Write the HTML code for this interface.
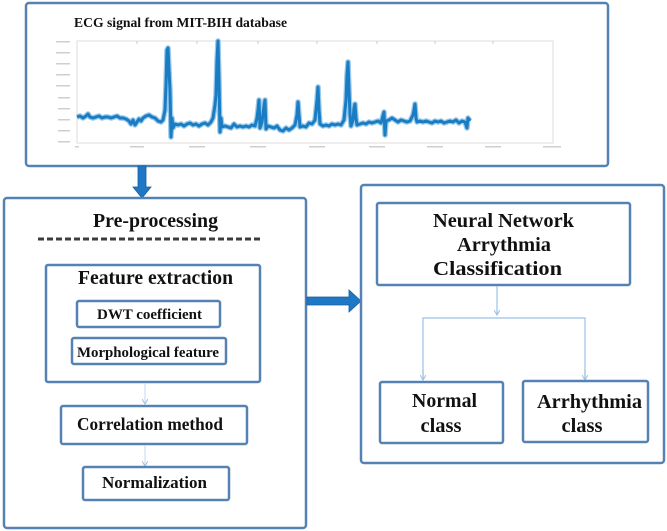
<!DOCTYPE html>
<html><head><meta charset="utf-8">
<style>
html,body{margin:0;padding:0;background:#fff;}
svg{display:block;}
text{font-family:"Liberation Serif",serif;font-weight:bold;fill:#111;}
</style></head>
<body>
<svg width="667" height="531" viewBox="0 0 667 531" xmlns="http://www.w3.org/2000/svg">
<defs>
<marker id="ah" markerWidth="6" markerHeight="6" refX="5" refY="3" orient="auto" markerUnits="userSpaceOnUse">
<path d="M0,0 L5,3 L0,6" fill="none" stroke="#9cc0e6" stroke-width="1"/>
</marker>
<path id="ecg" d="M77,117 L80,116 83,118 86,116 88,114 90,117 93,118 96,117 99,116 102,118 105,117 108,117 111,118 114,117 117,116 120,118 123,118 126,119 129,121 131,124 133,120 135,125 137,122 139,119 141,121 143,118 146,116 149,115 152,117 155,118 158,121 161,122 163,120 165,110 166,85 167,50 168,48 169,70 170,90 171,137 172,118 173,128 175,124 178,125 181,124 184,126 187,124 190,123 193,125 196,124 199,126 202,124 205,123 208,125 211,122 213,118 215,105 216,95 217,60 218,41 219,80 220,132 221,118 222,127 225,126 228,127 231,128 234,124 237,127 240,126 243,127 246,126 249,127 252,125 255,126 257,118 258,110 259,100 260,128 262,122 264,106 265,100 266,129 268,126 271,127 274,128 277,126 280,130 283,131 286,128 289,130 292,128 295,125 297,115 298,102 299,115 300,127 303,126 306,127 309,123 312,124 315,120 317,100 318,87 319,110 320,124 323,126 326,125 329,126 332,124 335,125 338,124 341,125 344,120 346,100 347,75 348,62 349,90 350,115 351,126 353,120 354,108 355,104 356,118 357,125 360,124 363,123 366,124 369,122 372,123 375,122 378,121 381,123 384,112 385,135 386,121 389,120 392,118 395,120 398,122 401,120 404,121 407,122 410,121 413,115 414,110 415,104 416,118 417,122 420,121 423,122 426,121 429,122 432,123 435,121 438,122 441,121 444,123 447,122 450,121 453,122 456,120 459,123 462,121 465,122 467,128 468,118 470,121"/>
</defs>
<!-- Top ECG box -->
<rect x="26" y="3" width="582" height="163" rx="3" fill="#fff" stroke="#5682b3" stroke-width="2.5"/>
<text x="74" y="27" font-size="13.5" textLength="213" lengthAdjust="spacingAndGlyphs">ECG signal from MIT-BIH database</text>
<!-- plot frame -->
<rect x="77" y="41" width="476" height="102" fill="none" stroke="#dcdcdc" stroke-width="1"/>
<g fill="#cfcfcf">
<rect x="56" y="41" width="14" height="1.5"/>
<rect x="56" y="52" width="14" height="1.5"/>
<rect x="56" y="63" width="14" height="1.5"/>
<rect x="56" y="74" width="14" height="1.5"/>
<rect x="56" y="85" width="14" height="1.5"/>
<rect x="58" y="97" width="12" height="1.5"/>
<rect x="58" y="108" width="12" height="1.5"/>
<rect x="58" y="119" width="12" height="1.5"/>
<rect x="58" y="130" width="12" height="1.5"/>
<rect x="58" y="141" width="12" height="1.5"/>
<rect x="75" y="146" width="4" height="1.5"/>
<rect x="130" y="146" width="14" height="1.5"/>
<rect x="189" y="146" width="16" height="1.5"/>
<rect x="250" y="146" width="16" height="1.5"/>
<rect x="309" y="146" width="16" height="1.5"/>
<rect x="369" y="146" width="16" height="1.5"/>
<rect x="427" y="146" width="16" height="1.5"/>
<rect x="485" y="146" width="16" height="1.5"/>
<rect x="543" y="146" width="18" height="1.5"/>
</g>
<g stroke="#c8c8c8" stroke-width="1">
<line x1="137" y1="41" x2="137" y2="44"/><line x1="197" y1="41" x2="197" y2="44"/>
<line x1="258" y1="41" x2="258" y2="44"/><line x1="317" y1="41" x2="317" y2="44"/>
<line x1="377" y1="41" x2="377" y2="44"/><line x1="435" y1="41" x2="435" y2="44"/>
<line x1="493" y1="41" x2="493" y2="44"/>
</g>
<g fill="none" stroke-linejoin="round">
<use href="#ecg" stroke="#7fbbe6" stroke-width="5.5" opacity="0.8"/>
<use href="#ecg" stroke="#1a7cc2" stroke-width="3"/>
</g>
<!-- down arrow -->
<polygon points="138,166 146,166 146,187 151,187 142,198 133,187 138,187" fill="#1f78c6" stroke="#175d9c" stroke-width="0.8"/>
<!-- Left box -->
<rect x="4" y="198" width="302" height="330" rx="3" fill="#fff" stroke="#5682b3" stroke-width="2.5"/>
<text x="155.5" y="227" font-size="19.5" text-anchor="middle" textLength="125" lengthAdjust="spacingAndGlyphs">Pre-processing</text>
<line x1="38" y1="239" x2="263" y2="239" stroke="#3c3c3c" stroke-width="3" stroke-dasharray="6,3"/>
<rect x="46" y="265" width="214" height="117" rx="2" fill="#fff" stroke="#5682b3" stroke-width="2.5"/>
<text x="155.5" y="284" font-size="19.5" text-anchor="middle" textLength="155" lengthAdjust="spacingAndGlyphs">Feature extraction</text>
<rect x="77" y="301" width="143" height="26" rx="2" fill="#fff" stroke="#5682b3" stroke-width="2.5"/>
<text x="149.5" y="319" font-size="15" text-anchor="middle" textLength="105" lengthAdjust="spacingAndGlyphs">DWT coefficient</text>
<rect x="72" y="338" width="154" height="26" rx="2" fill="#fff" stroke="#5682b3" stroke-width="2.5"/>
<text x="148" y="357" font-size="15" text-anchor="middle" textLength="142" lengthAdjust="spacingAndGlyphs">Morphological feature</text>
<line x1="145" y1="383" x2="145" y2="404" stroke="#c4daf0" stroke-width="1" marker-end="url(#ah)"/>
<rect x="61" y="406" width="186" height="38" rx="2" fill="#fff" stroke="#5682b3" stroke-width="2.5"/>
<text x="150" y="430" font-size="17.5" text-anchor="middle" textLength="146" lengthAdjust="spacingAndGlyphs">Correlation method</text>
<line x1="145" y1="445" x2="145" y2="466" stroke="#c4daf0" stroke-width="1" marker-end="url(#ah)"/>
<rect x="83" y="467" width="146" height="33" rx="2" fill="#fff" stroke="#5682b3" stroke-width="2.5"/>
<text x="154.5" y="488" font-size="17" text-anchor="middle" textLength="105" lengthAdjust="spacingAndGlyphs">Normalization</text>
<!-- right arrow -->
<polygon points="307,297 349,297 349,290 361,301 349,312 349,305 307,305" fill="#1f78c6" stroke="#175d9c" stroke-width="0.8"/>
<!-- Right box -->
<rect x="361" y="185" width="303" height="278" rx="3" fill="#fff" stroke="#5682b3" stroke-width="2.5"/>
<rect x="377" y="203" width="253" height="82" rx="2" fill="#fff" stroke="#5682b3" stroke-width="2.5"/>
<text x="503.5" y="227" font-size="20" text-anchor="middle" textLength="141" lengthAdjust="spacingAndGlyphs">Neural Network</text>
<text x="504" y="251" font-size="20" text-anchor="middle" textLength="94" lengthAdjust="spacingAndGlyphs">Arrythmia</text>
<text x="497.5" y="275" font-size="20" text-anchor="middle" textLength="129" lengthAdjust="spacingAndGlyphs">Classification</text>
<g stroke="#9cc0e6" stroke-width="1.2" fill="none">
<line x1="497" y1="286" x2="497" y2="315" marker-end="url(#ah)"/>
<polyline points="423,379 423,318 585,318 585,379"/>
</g>
<line x1="423" y1="370" x2="423" y2="380" stroke="#9cc0e6" stroke-width="1.2" marker-end="url(#ah)"/>
<line x1="585" y1="370" x2="585" y2="380" stroke="#9cc0e6" stroke-width="1.2" marker-end="url(#ah)"/>
<rect x="380" y="382" width="123" height="61" rx="2" fill="#fff" stroke="#5682b3" stroke-width="2.5"/>
<text x="444.5" y="407" font-size="20" text-anchor="middle" textLength="65" lengthAdjust="spacingAndGlyphs">Normal</text>
<text x="441" y="432" font-size="20" text-anchor="middle" textLength="41" lengthAdjust="spacingAndGlyphs">class</text>
<rect x="523" y="381" width="125" height="61" rx="2" fill="#fff" stroke="#5682b3" stroke-width="2.5"/>
<text x="589.5" y="408" font-size="20" text-anchor="middle" textLength="105" lengthAdjust="spacingAndGlyphs">Arrhythmia</text>
<text x="582" y="432" font-size="20" text-anchor="middle" textLength="41" lengthAdjust="spacingAndGlyphs">class</text>
</svg>
</body></html>
